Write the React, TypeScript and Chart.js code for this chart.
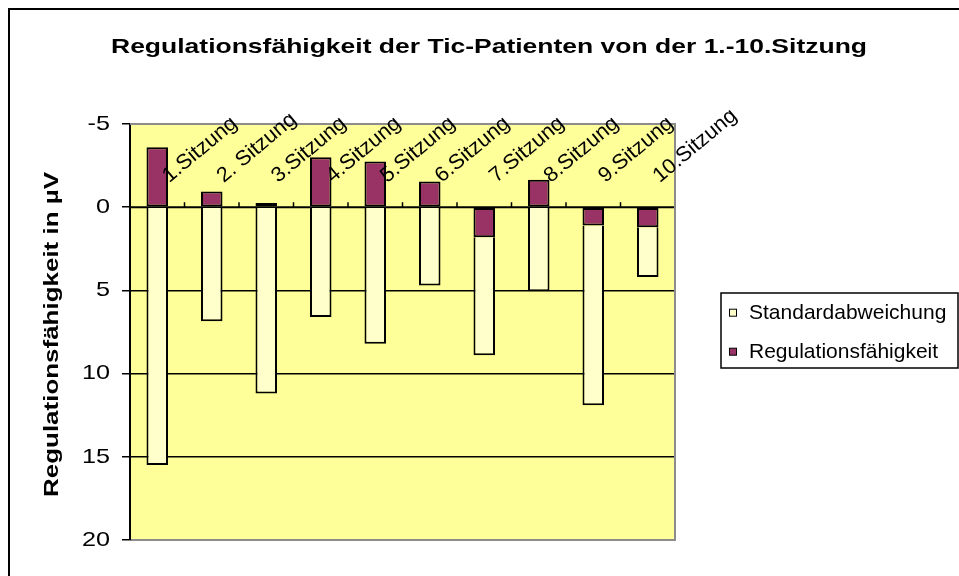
import React, { useEffect, useRef } from 'react';
import { Chart, registerables } from 'chart.js';

Chart.register(...registerables);

// ---- data ----
const categories = ['1.Sitzung', '2. Sitzung', '3.Sitzung', '4.Sitzung', '5.Sitzung', '6.Sitzung', '7.Sitzung', '8.Sitzung', '9.Sitzung', '10.Sitzung'];
const regulationsfaehigkeit = [-3.6, -0.95, -0.25, -3.0, -2.75, -1.55, 1.8, -1.65, 1.1, 1.2];
const standardabweichung = [15.5, 6.85, 11.2, 6.6, 8.2, 4.7, 7.1, 5.05, 10.8, 3.0];
const yTicks = [-5, 0, 5, 10, 15, 20];
const gridValues = [5, 10, 15];
const titleText = 'Regulationsfähigkeit der Tic-Patienten von der 1.-10.Sitzung';
const yTitleText = 'Regulationsfähigkeit in µV';
const seriesNames = ['Regulationsfähigkeit', 'Standardabweichung'];

const FONT = '"Liberation Sans", Arial, sans-serif';

function drawText(
  ctx: CanvasRenderingContext2D,
  text: string,
  x: number,
  y: number,
  o: { font: string; align?: CanvasTextAlign; baseline?: CanvasTextBaseline; rotate?: number; sx?: number; fitWidth?: number }
) {
  ctx.save();
  ctx.font = o.font;
  ctx.fillStyle = '#000';
  ctx.textAlign = o.align || 'left';
  ctx.textBaseline = o.baseline || 'alphabetic';
  let sx = o.sx || 1;
  if (o.fitWidth) sx = o.fitWidth / ctx.measureText(text).width;
  ctx.translate(x, y);
  if (o.rotate) ctx.rotate(o.rotate);
  ctx.scale(sx, 1);
  ctx.fillText(text, 0, 0);
  ctx.restore();
}

const decor = {
  id: 'decor',
  beforeDraw(chart: any) {
    const { ctx, chartArea: a } = chart;
    ctx.save();
    ctx.fillStyle = '#ffffff';
    ctx.fillRect(0, 0, chart.width, chart.height);
    ctx.fillStyle = '#FFFF99';
    ctx.fillRect(a.left, a.top, a.right - a.left, a.bottom - a.top);
    ctx.restore();
  },
  beforeDatasetsDraw(chart: any) {
    const { ctx, chartArea: a } = chart;
    const xs = chart.scales.x;
    const ys = chart.scales.y;
    const y0 = ys.getPixelForValue(0);
    ctx.save();
    ctx.strokeStyle = '#000';
    ctx.lineWidth = 2;
    ctx.beginPath();
    ctx.moveTo(a.left, y0);
    ctx.lineTo(a.right, y0);
    ctx.stroke();
    ctx.lineWidth = 1.5;
    const n = categories.length;
    for (let i = 1; i <= n; i++) {
      const x = i < n ? (xs.getPixelForValue(i - 1) + xs.getPixelForValue(i)) / 2 : a.right;
      ctx.beginPath();
      ctx.moveTo(x, y0);
      ctx.lineTo(x, y0 - 5);
      ctx.stroke();
    }
    ctx.restore();
  },
  afterDatasetsDraw(chart: any) {
    const { ctx, chartArea: a } = chart;
    ctx.save();
    ctx.strokeStyle = '#8c8c8c';
    ctx.lineWidth = 2;
    ctx.beginPath();
    ctx.moveTo(a.left, a.top);
    ctx.lineTo(a.right, a.top);
    ctx.lineTo(a.right, a.bottom);
    ctx.lineTo(a.left + 1, a.bottom);
    ctx.stroke();
    ctx.restore();
  },
  afterDraw(chart: any) {
    const { ctx } = chart;
    const xs = chart.scales.x;
    const ys = chart.scales.y;
    // outer frame (only top and left visible)
    ctx.save();
    ctx.fillStyle = '#000';
    ctx.fillRect(8, 8, chart.width - 8, 2);
    ctx.fillRect(8, 8, 2, chart.height - 8);
    ctx.restore();

    // title
    drawText(ctx, titleText, 489, 53, { font: `bold 21px ${FONT}`, align: 'center', fitWidth: 756 });
    // y axis title
    drawText(ctx, yTitleText, 58, 334.5, { font: `bold 21px ${FONT}`, align: 'center', rotate: -Math.PI / 2, fitWidth: 325 });
    // y tick labels
    ys.ticks.forEach((t: any) => {
      drawText(ctx, String(t.value), 110, ys.getPixelForValue(t.value), { font: `21px ${FONT}`, align: 'right', baseline: 'middle', sx: 1.2 });
    });
    // category labels (rotated, above the zero line)
    const y0 = ys.getPixelForValue(0);
    categories.forEach((c, i) => {
      drawText(ctx, c, xs.getPixelForValue(i) + 12, y0 - 24, { font: `21px ${FONT}`, rotate: (-40 * Math.PI) / 180, sx: 1.03 });
    });

    // legend
    ctx.save();
    ctx.strokeStyle = '#000';
    ctx.lineWidth = 1.5;
    ctx.strokeRect(721, 293, 237, 75);
    const ds = chart.data.datasets.slice().reverse();
    ds.forEach((d: any, k: number) => {
      const cy = 312.7 + k * 39;
      ctx.fillStyle = d.backgroundColor;
      ctx.fillRect(729.5, cy - 3.5, 7, 7);
      ctx.lineWidth = 1;
      ctx.strokeRect(729.5, cy - 3.5, 7, 7);
      drawText(ctx, d.label, 749, cy + 1, { font: `21px ${FONT}`, baseline: 'middle' });
    });
    ctx.restore();
  },
};

export default function App() {
  const ref = useRef<HTMLCanvasElement | null>(null);
  useEffect(() => {
    if (!ref.current) return;
    const chart = new Chart(ref.current, {
      type: 'bar',
      data: {
        labels: categories,
        datasets: [
          {
            label: seriesNames[0],
            data: regulationsfaehigkeit,
            backgroundColor: '#993366',
            borderColor: '#000000',
            borderWidth: 2,
            borderSkipped: false,
          },
          {
            label: seriesNames[1],
            data: standardabweichung,
            backgroundColor: '#FFFFCC',
            borderColor: '#000000',
            borderWidth: 2,
            borderSkipped: 'start',
          },
        ],
      },
      options: {
        responsive: false,
        devicePixelRatio: 1,
        animation: false,
        events: [],
        datasets: { bar: { barPercentage: 0.395, categoryPercentage: 1 } },
        layout: { padding: { left: 90, top: 124, right: 284, bottom: 36 } },
        plugins: { legend: { display: false }, title: { display: false }, tooltip: { enabled: false } },
        scales: {
          x: { type: 'category', stacked: true, display: false, offset: true },
          y: {
            type: 'linear',
            stacked: true,
            reverse: true,
            min: -5,
            max: 20,
            afterBuildTicks: (s: any) => {
              s.ticks = yTicks.map((v) => ({ value: v }));
            },
            afterFit: (s: any) => {
              s.width = 40;
            },
            ticks: { display: false },
            grid: {
              color: (c: any) => (c.tick && gridValues.includes(c.tick.value) ? '#000000' : 'rgba(0,0,0,0)'),
              lineWidth: 1.5,
              tickColor: '#000000',
              tickWidth: 1.5,
              tickLength: 8,
              drawTicks: true,
            },
            border: { display: true, color: '#000000', width: 2 },
          },
        },
      },
      plugins: [decor],
    } as any);
    return () => chart.destroy();
  }, []);
  return (
    <div style={{ position: 'absolute', left: 0, top: 0, width: 959, height: 576 }}>
      <canvas ref={ref} width={959} height={576} style={{ display: 'block' }} />
    </div>
  );
}
